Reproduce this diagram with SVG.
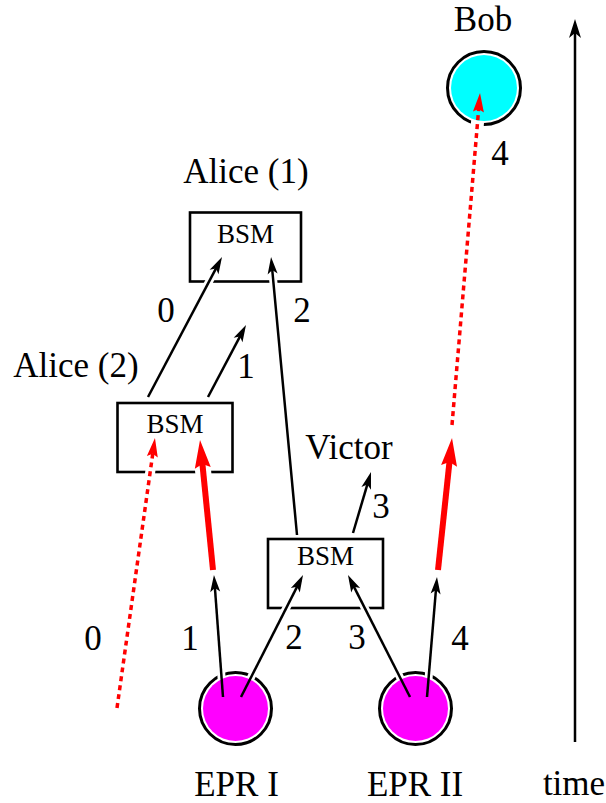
<svg xmlns="http://www.w3.org/2000/svg" width="606" height="803" viewBox="0 0 606 803">
<style>
text{font-family:"Liberation Serif","Times New Roman",serif;fill:#000}
.lbl{font-size:35px;text-anchor:middle}
.bsm{font-size:27px;text-anchor:middle}
.box{fill:none;stroke:#000;stroke-width:2.6}
.ring{fill:#fff;stroke:#000;stroke-width:3}
.ln{fill:none;stroke:#000;stroke-width:2.5}
.thick{fill:none;stroke:#ff0000;stroke-width:6}
.dot{fill:none;stroke:#ff0000;stroke-width:3.5;stroke-dasharray:5 4}
</style>
<defs>
<marker id="ah" markerUnits="userSpaceOnUse" orient="auto" refX="0" refY="0" markerWidth="40" markerHeight="40" overflow="visible">
<path d="M6,0 L-11,-5 L-7,0 L-11,5 Z" fill="#000"/>
</marker>
<marker id="aht" markerUnits="userSpaceOnUse" orient="auto" refX="0" refY="0" markerWidth="40" markerHeight="40" overflow="visible">
<path d="M6,0 L-13,-6 L-8,0 L-13,6 Z" fill="#000"/>
</marker>
<marker id="ahr" markerUnits="userSpaceOnUse" orient="auto" refX="0" refY="0" markerWidth="60" markerHeight="60" overflow="visible">
<path d="M20,0 L-8,-8 L-4,0 L-8,8 Z" fill="#ff0000"/>
</marker>
<marker id="ahd" markerUnits="userSpaceOnUse" orient="auto" refX="0" refY="0" markerWidth="40" markerHeight="40" overflow="visible">
<path d="M12,0 L-7,-5.5 L-4,0 L-7,5.5 Z" fill="#ff0000"/>
</marker>
<mask id="gaps" maskUnits="userSpaceOnUse" x="0" y="0" width="606" height="803">
<rect x="0" y="0" width="606" height="803" fill="#fff"/>
<g fill="none" stroke="#000">
<g stroke-width="8">
<line x1="223" y1="697" x2="214.4" y2="581"/>
<line x1="241" y1="697" x2="300.3" y2="580.4"/>
<line x1="410" y1="697" x2="350.7" y2="580.4"/>
<line x1="427" y1="697" x2="436.5" y2="583"/>
<line x1="297" y1="535" x2="271.6" y2="263"/>
<line x1="148" y1="397" x2="219.2" y2="262.3"/>
</g>
<line x1="213" y1="570" x2="200" y2="440" stroke-width="16"/>
<line x1="117" y1="708" x2="155" y2="438" stroke-width="10"/>
<line x1="452" y1="425" x2="480" y2="93" stroke-width="13"/>
</g>
</mask>
</defs>

<g id="alice1">
<rect class="box" x="190" y="212.5" width="111" height="69" mask="url(#gaps)"/>
<text class="bsm" x="245.5" y="243">BSM</text>
<text class="lbl" x="246" y="183">Alice (1)</text>
</g>

<g id="alice2">
<rect class="box" x="117.5" y="403" width="115" height="69" mask="url(#gaps)"/>
<text class="bsm" x="175" y="433">BSM</text>
<text class="lbl" x="76" y="377">Alice (2)</text>
</g>

<g id="victor">
<rect class="box" x="268" y="539" width="115" height="69" mask="url(#gaps)"/>
<text class="bsm" x="325.5" y="565">BSM</text>
<text class="lbl" x="349" y="459">Victor</text>
</g>

<g id="bob">
<circle class="ring" cx="484" cy="88" r="36.5" mask="url(#gaps)"/>
<circle cx="484" cy="88" r="33" fill="#00ffff"/>
<text class="lbl" x="483" y="31">Bob</text>
</g>

<g id="epr1">
<circle class="ring" cx="235.5" cy="708.5" r="36" mask="url(#gaps)"/>
<circle cx="235.5" cy="708.5" r="32.5" fill="#ff00ff"/>
<text class="lbl" x="236.5" y="796">EPR I</text>
</g>

<g id="epr2">
<circle class="ring" cx="415.5" cy="708.5" r="36" mask="url(#gaps)"/>
<circle cx="415.5" cy="708.5" r="32.5" fill="#ff00ff"/>
<text class="lbl" x="415" y="796">EPR II</text>
</g>

<g id="time-axis">
<line class="ln" x1="575" y1="742" x2="575" y2="25" marker-end="url(#aht)"/>
<text class="lbl" x="574" y="795">time</text>
</g>

<g id="connectors">
<line class="ln" x1="223" y1="697" x2="214.4" y2="581" marker-end="url(#ah)"/>
<line class="ln" x1="241" y1="697" x2="300.3" y2="580.4" marker-end="url(#ah)"/>
<line class="ln" x1="410" y1="697" x2="350.7" y2="580.4" marker-end="url(#ah)"/>
<line class="ln" x1="427" y1="697" x2="436.5" y2="583" marker-end="url(#ah)"/>
<line class="ln" x1="297" y1="535" x2="271.6" y2="263" marker-end="url(#ah)"/>
<line class="ln" x1="353" y1="533" x2="369.3" y2="477.8" marker-end="url(#ah)"/>
<line class="ln" x1="148" y1="397" x2="219.2" y2="262.3" marker-end="url(#ah)"/>
<line class="ln" x1="208" y1="397" x2="243.2" y2="330.3" marker-end="url(#ah)"/>
<line class="thick" x1="213" y1="570" x2="202" y2="459.9" marker-end="url(#ahr)"/>
<line class="thick" x1="438" y1="570" x2="449.9" y2="457.9" marker-end="url(#ahr)"/>
<line class="dot" x1="117" y1="708" x2="153.3" y2="449.9" marker-end="url(#ahd)"/>
<line class="dot" x1="452" y1="425" x2="479" y2="105" marker-end="url(#ahd)"/>
<g id="connector-labels">
<text class="lbl" x="500" y="165">4</text>
<text class="lbl" x="166" y="322">0</text>
<text class="lbl" x="302" y="322">2</text>
<text class="lbl" x="246" y="378">1</text>
<text class="lbl" x="381" y="518">3</text>
<text class="lbl" x="93" y="650">0</text>
<text class="lbl" x="190" y="650">1</text>
<text class="lbl" x="294" y="649">2</text>
<text class="lbl" x="357" y="649">3</text>
<text class="lbl" x="460" y="650">4</text>
</g>
</g>
</svg>
